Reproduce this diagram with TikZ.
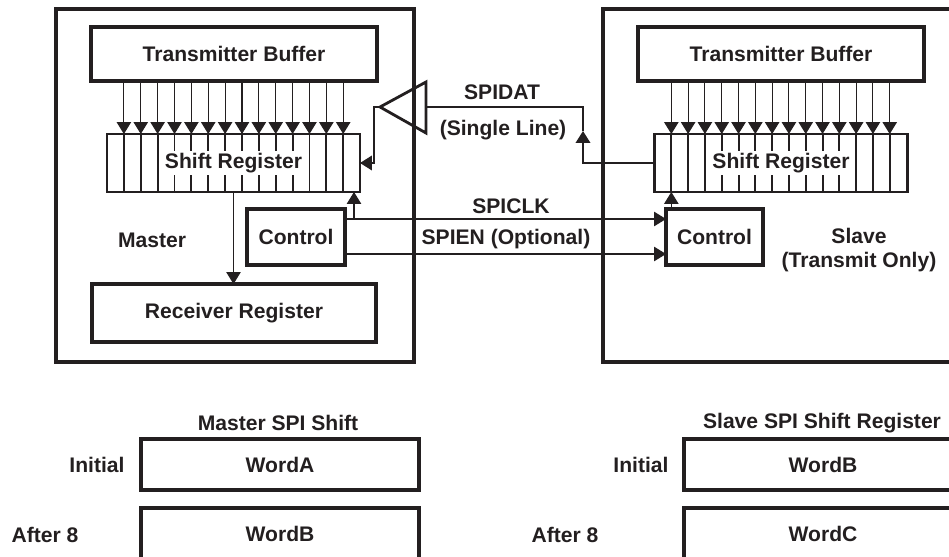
\documentclass[tikz,border=0pt]{standalone}
\usepackage{fontspec}
\setmainfont{Liberation Sans}
\usetikzlibrary{arrows.meta,calc}
\definecolor{ink}{RGB}{35,31,32}

\begin{document}
\begin{tikzpicture}[x=0.02cm,y=-0.02cm,color=ink,
	font=\bfseries\fontsize{12}{13.6}\selectfont,
	box/.style={draw,line width=1.8pt,inner sep=0pt,outer sep=0pt},
	reg/.style={draw,line width=1.2pt,inner sep=0pt,outer sep=0pt,minimum width=5.06cm,minimum height=1.16cm},
	sig/.style={line width=0.6pt},
	dat/.style={line width=1.2pt},
	arr/.style={-{Triangle[length=2.4mm,width=2.9mm]}}]
	\useasboundingbox (0,0) rectangle (949,557);
	\clip (0,0) rectangle (949,557);

	%Master
	\draw[line width=2pt] (56,9) rectangle (414,362);
	\node[box,minimum width=5.72cm,minimum height=1.08cm] at (234,54) (mTB) {Transmitter Buffer};
	\node[reg] at (233.5,163) (mSR) {};
	\foreach \i in {1,...,14} {
		\coordinate (m\i) at ($(mSR.north west)+(\i*16.87,0)$);
		\draw[line width=1.1pt] (m\i) -- (m\i |- mSR.south);
		\draw[sig,arr] (m\i |- mTB.south) -- (m\i);
	}
	\node[fill=white,inner sep=1pt] at (mSR) (mSRtext) {Shift Register};
	\node[box,minimum width=1.96cm,minimum height=1.12cm] at (296,237) (mCtrl) {Control};
	\node[box,minimum width=5.68cm,minimum height=1.16cm] at (234,313) (mRR) {Receiver Register};
	\node[] at (152,240) (mLbl) {Master};
	\draw[sig,arr] (mSR.south) -- (mSR.south |- mRR.north);

	%Slave
	\draw[line width=2pt] (603,9) rectangle (965,362);
	\node[box,minimum width=5.72cm,minimum height=1.08cm] at (781,54) (sTB) {Transmitter Buffer};
	\node[reg] at (781,163) (sSR) {};
	\foreach \i in {1,...,14} {
		\coordinate (s\i) at ($(sSR.north west)+(\i*16.8,0)$);
		\draw[line width=1.1pt] (s\i) -- (s\i |- sSR.south);
		\draw[sig,arr] (s\i |- sTB.south) -- (s\i);
	}
	\node[fill=white,inner sep=1pt] at (sSR) (sSRtext) {Shift Register};
	\node[box,minimum width=1.94cm,minimum height=1.12cm] at (714.5,237) (sCtrl) {Control};
	\node[align=center] at (859,250) (sLbl) {Slave\\(Transmit Only)};

	%Line buffer
	\coordinate (bufin) at (426,107);
	\coordinate (buftip) at (380,107);
	\draw[line width=1.6pt,line join=miter] (426,82) -- (426,133) -- (buftip) -- cycle;

	%SPIDAT
	\coordinate (datup) at (583,131);
	\draw[dat,arr] (sSR.west) -| (datup);
	\draw[dat] (datup) |- (bufin);
	\draw[dat,arr] (buftip) -- ++(-6,0) |- (mSR.east);
	\node[] at (502,92) (datLbl) {SPIDAT};
	\node[] at (503,130) (lineLbl) {(Single Line)};

	%SPICLK and SPIEN
	\coordinate (clkM) at ([yshift=0.36cm]mCtrl.east);
	\draw[sig,arr] (clkM) -- (clkM -| sCtrl.west);
	\coordinate (clkB) at (354,219);
	\draw[sig,arr] (clkB) -- (clkB |- mSR.south);
	\draw[sig,arr] (s1 |- sCtrl.north) -- (s1 |- sSR.south);
	\coordinate (enM) at ([yshift=-0.34cm]mCtrl.east);
	\draw[sig,arr] (enM) -- (enM -| sCtrl.west);
	\node[] at (511,206) (clkLbl) {SPICLK};
	\node[] at (506,239) (enLbl) {SPIEN (Optional)};

	%Shift contents
	\node[] at (278,423) (mTitle) {Master SPI Shift};
	\node[box,minimum width=5.56cm,minimum height=1.02cm] at (280,464.5) (mInit) {WordA};
	\node[box,minimum width=5.56cm,minimum height=1.02cm] at (280,533.5) (mAfter) {WordB};
	\node[] at (97,465) (mInitLbl) {Initial};
	\node[] at (45,535) (mAfterLbl) {After 8};
	\node[] at (822,423) (sTitle) {Slave SPI Shift Register};
	\node[box,minimum width=5.56cm,minimum height=1.02cm] at (823,464.5) (sInit) {WordB};
	\node[box,minimum width=5.56cm,minimum height=1.02cm] at (823,533.5) (sAfter) {WordC};
	\node[] at (641,465) (sInitLbl) {Initial};
	\node[] at (565,535) (sAfterLbl) {After 8};

\end{tikzpicture}
\end{document}
